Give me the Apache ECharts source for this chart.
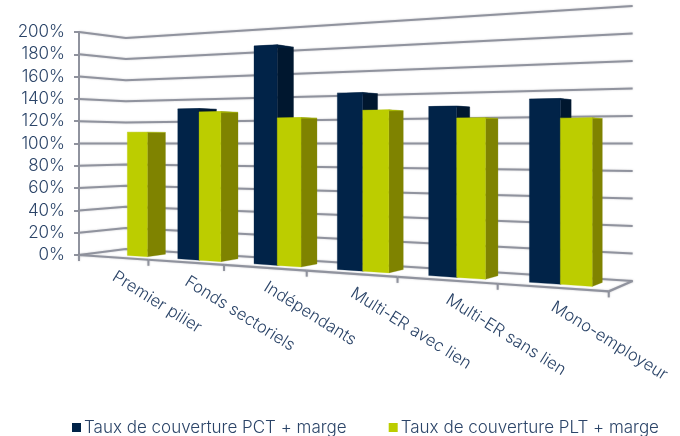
<!DOCTYPE html>
<html>
<head>
<meta charset="utf-8">
<style>html,body{margin:0;padding:0;background:#fff}#c{width:680px;height:436px}</style>
<script src="https://cdn.jsdelivr.net/npm/echarts@6/dist/echarts.min.js"></script>
</head>
<body>
<div id="c"></div>
<script>
const categories = ['Premier pilier','Fonds sectoriels','Indépendants','Multi-ER avec lien','Multi-ER sans lien','Mono-employeur'];
const pctValues = [null,130,181,140,128,132];
const pltValues = [110,127,121,126,119,118];
const yTicks = [0,20,40,60,80,100,120,140,160,180,200];
const seriesNames = ['Taux de couverture PCT + marge','Taux de couverture PLT + marge'];

const FONT = 'Inter, "Open Sans", sans-serif';
const TEXT = '#2b4468';
const LINE = '#90939e';

// Perspective view of the chart box: a across, b up, c into the depth (all 0..1)
function view(a,b,c){
  const w = 1 - 0.246*a + 0.0569*c;
  return [(79 + 380*a + 54*c)/w, (255 - 35.3*a - 223*b + 8.17*c)/w];
}
function norm(api,params,cat,val){
  const p = api.coord([cat,val]), s = params.coordSys;
  return [(p[0]-s.x)/s.width,(s.y+s.height-p[1])/s.height];
}
function poly(pts,fill){
  return {type:'polygon',shape:{points:pts},style:{fill:fill,stroke:fill,lineWidth:0.3}};
}
function line(pts,w){
  return {type:'polyline',shape:{points:pts},style:{fill:null,stroke:LINE,lineWidth:w||2,shadowBlur:2,shadowColor:'rgba(120,120,130,0.4)'}};
}
const BAR = 0.048, C0 = 0.3, C1 = 0.7;
function barRenderer(side,front,sideCol,topCol){
  return function(params,api){
    const v = api.value(1);
    if (v==null || isNaN(v)) return;
    const n = norm(api,params,api.value(0),v);
    const a0 = side<0 ? n[0]-BAR : n[0], a1 = a0+BAR, b = n[1];
    return {type:'group',children:[
      poly([view(a1,0,C0),view(a1,0,C1),view(a1,b,C1),view(a1,b,C0)],sideCol),
      poly([view(a0,b,C0),view(a1,b,C0),view(a1,b,C1),view(a0,b,C1)],topCol),
      poly([view(a0,0,C0),view(a1,0,C0),view(a1,b,C0),view(a0,b,C0)],front)
    ]};
  };
}
const chart = echarts.init(document.getElementById('c'),null,{renderer:'canvas'});
chart.setOption({
  animation:false,
  backgroundColor:'#fff',
  grid:{left:79,top:32,width:531,height:223,containLabel:false},
  xAxis:{type:'category',data:categories,show:false},
  yAxis:{type:'value',min:0,max:200,interval:20,
    axisLine:{show:true,lineStyle:{color:LINE,width:2}},
    axisTick:{show:true,length:5,lineStyle:{color:LINE,width:2}},
    splitLine:{show:false},
    axisLabel:{formatter:'{value}%',color:TEXT,fontFamily:FONT,fontSize:17,fontWeight:300,margin:14,padding:[2,0,0,0]}
  },
  legend:{data:seriesNames,left:67,top:414,itemWidth:9,itemHeight:9,itemGap:42,icon:'rect',
    textStyle:{color:TEXT,fontFamily:FONT,fontSize:17,fontWeight:300,padding:[0,0,0,-2]}},
  series:[
    {type:'custom',silent:true,z:1,data:yTicks.map(t=>[0,t]),encode:{x:0,y:1},clip:false,
      renderItem:function(params,api){
        const b = norm(api,params,0,api.value(1))[1];
        return line([view(0,b,0),view(0,b,1),view(1,b,1)]);
      }},
    {type:'custom',silent:true,z:1,data:categories.map((c,i)=>[i,0]),encode:{x:0,y:1},clip:false,
      renderItem:function(params,api){
        const i = api.value(0), n = norm(api,params,i,0), s = api.size([1,0])[0]/params.coordSys.width;
        const e0 = n[0]-s/2, e1 = n[0]+s/2;
        const p0 = view(e0,0,0), p1 = view(e1,0,0), q = view(n[0],0,0);
        const kids = [line([p0,p1],2.2),line([p1,[p1[0],p1[1]+6]],2)];
        if (i===0) kids.push(line([p0,[p0[0],p0[1]+6]],2));
        if (i===categories.length-1) kids.push(line([p1,view(1,0,1)],2.2));
        kids.push({type:'text',x:q[0]+1,y:q[1]+18,rotation:-32*Math.PI/180,
          style:{text:categories[i],fill:TEXT,font:'300 16.6px '+FONT,align:'left',verticalAlign:'middle'}});
        return {type:'group',children:kids};
      }},
    {type:'custom',name:seriesNames[0],silent:true,z:2,clip:false,encode:{x:0,y:1},
      itemStyle:{color:'#012348'},
      data:pctValues.map((v,i)=>[i,v]),
      renderItem:barRenderer(-1,'#012348','#00172f','#011e3e')},
    {type:'custom',name:seriesNames[1],silent:true,z:3,clip:false,encode:{x:0,y:1},
      itemStyle:{color:'#bccd00'},
      data:pltValues.map((v,i)=>[i,v]),
      renderItem:barRenderer(1,'#bccd00','#7f8300','#a8b800')}
  ]
});
</script>
</body>
</html>
